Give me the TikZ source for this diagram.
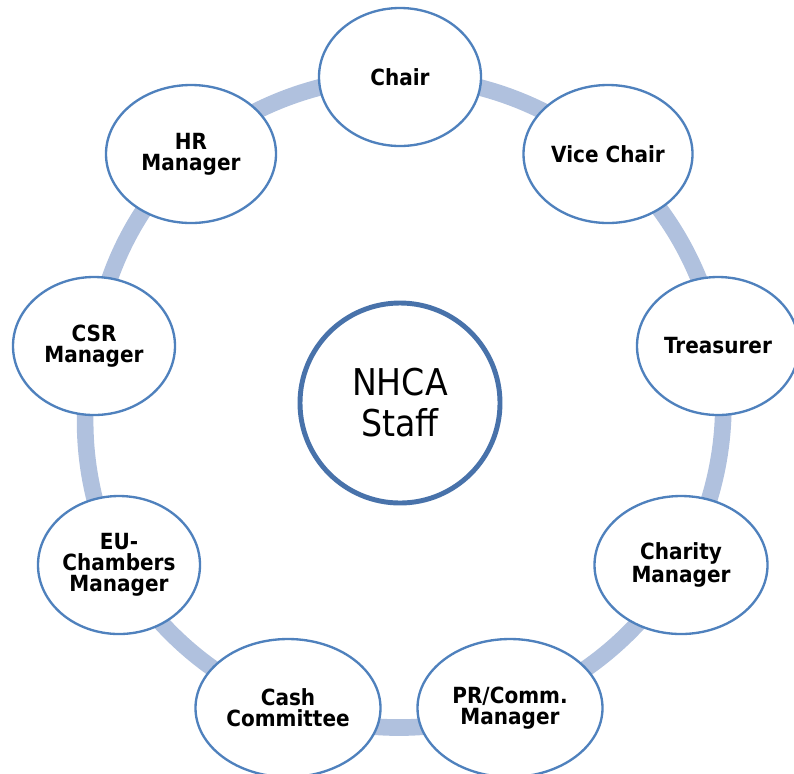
\documentclass[tikz,border=0pt]{standalone}
\usepackage{fontspec}
\setmainfont{DejaVu Sans Condensed}
\usetikzlibrary{shapes.geometric, backgrounds}
\definecolor{nhcaedge}{RGB}{79, 129, 189}
\definecolor{nhcahub}{RGB}{72, 114, 170}
\definecolor{nhcaring}{RGB}{176, 193, 222}
\tikzset{
  member/.style={ellipse, draw=nhcaedge, line width=2pt, fill=white,
                 minimum width=4.86cm, minimum height=4.14cm, inner sep=0pt,
                 align=center, font=\bfseries\fontsize{19}{17.8}\selectfont},
  hub/.style={circle, draw=nhcahub, line width=4.2pt, fill=white,
              minimum size=6.0cm, inner sep=0pt, align=center,
              font=\fontsize{31.5}{35}\selectfont},
  ring/.style={draw=nhcaring, line width=0.5cm},
  link/.style={bend left=20, looseness=0.88}
}
\begin{document}
\begin{tikzpicture}[x=0.03cm, y=-0.03cm]
\useasboundingbox (0,0) rectangle (794,773);

% Centre
\node[hub] (staff) at (400,403) {NHCA\\Staff};

% Members around the cycle
\node[member] (chair) at (400,77) {Chair};
\node[member, minimum width=5.07cm] (vice) at (608,154) {Vice Chair};
\node[member] (treasurer) at (718,346) {Treasurer};
\node[member, minimum width=5.19cm] (charity) at (681,565) {Charity\\Manager};
\node[member, minimum width=5.55cm] (prcomm) at (510,708) {PR/Comm.\\Manager};
\node[member, minimum width=5.55cm] (cash) at (288,708) {Cash\\Committee};
\node[member] (eu) at (119,565) {EU-\\Chambers\\Manager};
\node[member] (csr) at (94,346) {CSR\\Manager};
\node[member, minimum width=5.1cm] (hr) at (191,154) {HR\\Manager};

% Ring behind the members
\begin{scope}[on background layer]
  \draw[ring] (chair.center) to[link] (vice.center)
              to[link] (treasurer.center)
              to[link] (charity.center)
              to[link] (prcomm.center)
              to[link] (cash.center)
              to[link] (eu.center)
              to[link] (csr.center)
              to[link] (hr.center)
              to[link] (chair.center);
\end{scope}

\end{tikzpicture}
\end{document}
